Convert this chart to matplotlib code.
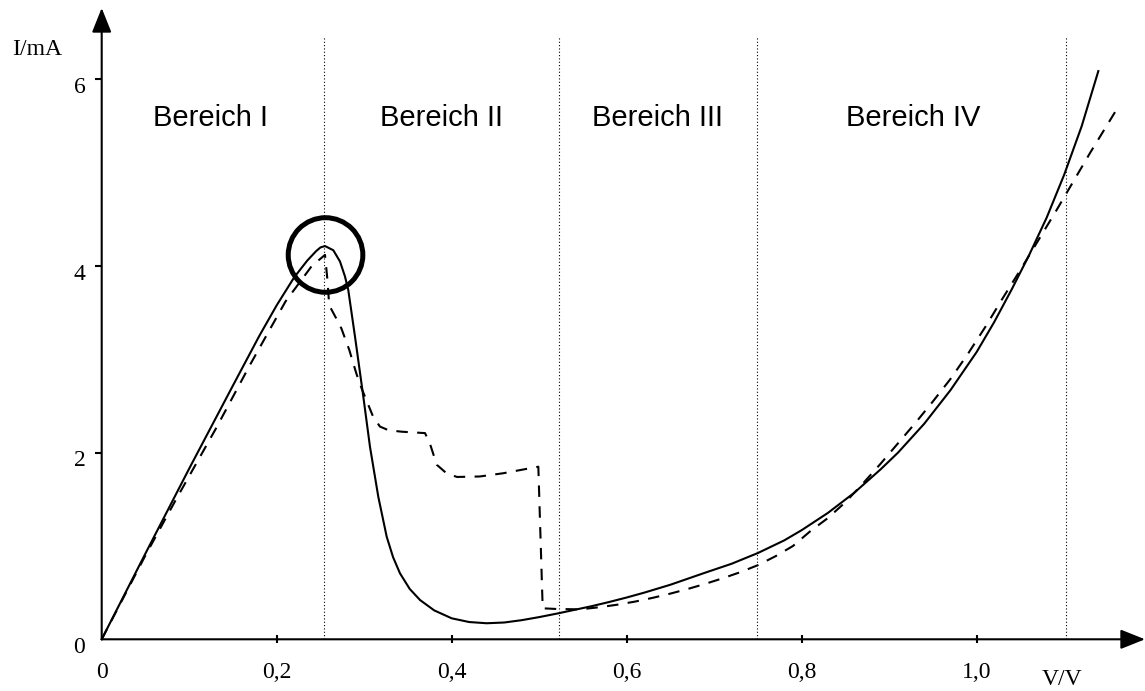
import matplotlib
matplotlib.use("Agg")
import matplotlib.pyplot as plt
from matplotlib.patches import Ellipse

# ---- data ----
v_solid = [0, 0.05, 0.1, 0.15, 0.18, 0.2, 0.22, 0.235, 0.245, 0.25, 0.2552,
           0.2647, 0.2723, 0.278, 0.2818, 0.2895, 0.299, 0.3066, 0.3161, 0.3257,
           0.333, 0.3409, 0.352, 0.3638, 0.38, 0.40, 0.42, 0.44, 0.46, 0.48, 0.50,
           0.52, 0.54, 0.56, 0.58, 0.60, 0.62, 0.65, 0.6875, 0.72, 0.75, 0.78,
           0.80, 0.83, 0.86, 0.89, 0.91, 0.94, 0.97, 1.0, 1.02, 1.04, 1.06, 1.08,
           1.10, 1.12, 1.139]
i_solid = [0, 0.92, 1.83, 2.72, 3.25, 3.58, 3.88, 4.06, 4.16, 4.20, 4.215,
           4.17, 4.05, 3.89, 3.744, 3.243, 2.60, 2.064, 1.528, 1.10,
           0.88, 0.707, 0.54, 0.421, 0.31, 0.225, 0.185, 0.172, 0.18, 0.205, 0.238,
           0.275, 0.315, 0.355, 0.40, 0.448, 0.50, 0.585, 0.707, 0.81, 0.925, 1.06,
           1.17, 1.355, 1.57, 1.82, 2.0, 2.31, 2.67, 3.08, 3.4, 3.75, 4.12, 4.52,
           4.98, 5.5, 6.09]

v_dash = [0, 0.05, 0.085, 0.13, 0.17, 0.21, 0.24, 0.2552, 0.258, 0.26, 0.268, 0.274,
          0.283, 0.291, 0.297, 0.31, 0.318, 0.328, 0.343, 0.3695, 0.375, 0.383, 0.394,
          0.406, 0.432, 0.459, 0.4875, 0.499, 0.504, 0.52, 0.5466, 0.57, 0.59, 0.61,
          0.63, 0.65, 0.67, 0.69, 0.71, 0.73, 0.75, 0.77, 0.79, 0.81, 0.83, 0.85,
          0.87, 0.89, 0.91, 0.93, 0.95, 0.97, 0.99, 1.01, 1.03, 1.05, 1.07, 1.09,
          1.11, 1.13, 1.1619]
i_dash = [0, 0.90, 1.5, 2.25, 2.95, 3.62, 4.0, 4.12, 3.85, 3.58, 3.44, 3.33,
          3.1, 2.85, 2.69, 2.39, 2.28, 2.24, 2.225, 2.21, 2.1, 1.87, 1.78,
          1.74, 1.745, 1.78, 1.83, 1.85, 0.332, 0.325, 0.321, 0.345, 0.372, 0.405,
          0.445, 0.49, 0.54, 0.595, 0.655, 0.72, 0.795, 0.89, 1.0, 1.16, 1.30, 1.47,
          1.67, 1.88, 2.1, 2.32, 2.55, 2.79, 3.06, 3.35, 3.66, 3.96, 4.27, 4.58,
          4.9, 5.22, 5.709]

region_bounds = [0.2544, 0.5226, 0.7489, 1.1017]
region_labels = ["Bereich I", "Bereich II", "Bereich III", "Bereich IV"]
region_label_x = [0.1246, 0.3886, 0.6352, 0.9269]

x_ticks = [0.2, 0.4, 0.6, 0.8, 1.0]
x_tick_labels = ["0,2", "0,4", "0,6", "0,8", "1,0"]
y_ticks = [2, 4, 6]
y_tick_labels = ["2", "4", "6"]

peak_v, peak_i = 0.2558, 4.119

# ---- figure ----
fig = plt.figure(figsize=(11.45, 6.91), dpi=100)
ax = fig.add_axes([0, 0, 1, 1])
ax.set_xlim(-0.116229, 1.192343)
ax.set_ylim(-0.55413, 6.85209)
for s in ax.spines.values():
    s.set_visible(False)
ax.spines['left'].set_position(('data', 0))
ax.spines['bottom'].set_position(('data', 0))
ax.patch.set_visible(False)

serif = "Liberation Serif"
sans = "Liberation Sans"

# axes with arrows
arrow_kw = dict(arrowstyle='-|>,head_length=0.75,head_width=0.3', lw=1.5,
                color='black', mutation_scale=20, shrinkA=0, shrinkB=0)
ax.annotate('', xy=(1.192343, 0), xytext=(0, 0), arrowprops=arrow_kw)
ax.annotate('', xy=(0, (639.3 - 8) / 93.3), xytext=(0, 0), arrowprops=arrow_kw)

# ticks
ax.set_xticks(x_ticks)
ax.set_xticklabels([])
ax.set_yticks(y_ticks)
ax.set_yticklabels([])
ax.tick_params(axis='x', direction='inout', length=6, width=1.5, colors='black')
ax.tick_params(axis='y', direction='out', length=5, width=1.5, colors='black')
ax.xaxis.set_ticks_position('bottom')
ax.yaxis.set_ticks_position('left')

# tick labels
for xv, lab in zip([0] + x_ticks, ["0"] + x_tick_labels):
    ax.text(xv, -0.418, lab, ha='center', va='baseline', fontsize=17, family=serif)
for yv, lab in zip([0] + y_ticks, ["0"] + y_tick_labels):
    ax.text(-0.0254, yv - 0.146, lab, ha='center', va='baseline', fontsize=17, family=serif)
ax.text(-0.1025, 6.263, "I/mA", ha='left', va='baseline', fontsize=17, family=serif)
ax.text(1.0971, -0.49, "V/V", ha='center', va='baseline', fontsize=17, family=serif)

# region separators
top_i = (639.3 - 37) / 93.3
for b in region_bounds:
    ax.plot([b, b], [0, top_i], color='black', lw=0.8, linestyle=(0, (1, 2)))
for xv, lab in zip(region_label_x, region_labels):
    ax.text(xv, 5.5016, lab, ha='center', va='baseline', fontsize=21, family=sans)

# curves
ax.plot(v_solid, i_solid, color='black', lw=1.5, solid_joinstyle='round')
ax.plot(v_dash, i_dash, color='black', lw=1.5, dashes=(5.5, 4.5))

# circle around the peak
ax.add_patch(Ellipse((peak_v, peak_i), 2 * 37.3 / 875, 2 * 37.3 / 93.3,
                     fill=False, lw=3.6, edgecolor='black'))

fig.savefig("out.png", dpi=100)
